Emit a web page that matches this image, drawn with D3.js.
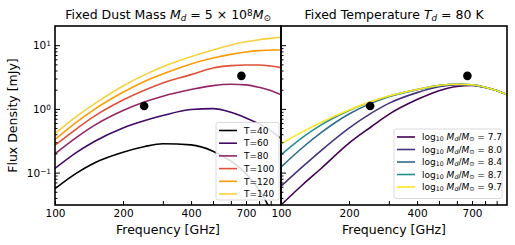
<!DOCTYPE html>
<html>
<head>
<meta charset="utf-8">
<script src="https://cdn.jsdelivr.net/npm/d3@7"></script>
<style>
  body { margin: 0; background: #fff; }
  svg text { font-family: "DejaVu Sans", sans-serif; fill: #000; }
</style>
</head>
<body>
<div class="main__area"></div>
<script>
const freqs = [100, 125, 150, 200, 250, 300, 400, 500, 600, 700, 800, 900, 1000];

// left panel: fixed dust mass, flux density (mJy) per temperature
const temps = [40, 60, 80, 100, 120, 140];
const fluxT40  = [0.056, 0.099, 0.143, 0.209, 0.257, 0.283, 0.272, 0.217, 0.151, 0.096, 0.054, 0.026, 0.013];
const fluxT60  = [0.116, 0.209, 0.311, 0.503, 0.656, 0.785, 0.976, 1.01, 0.886, 0.722, 0.581, 0.457, 0.342];
const fluxT80  = [0.197, 0.36, 0.555, 0.94, 1.29, 1.58, 2.01, 2.32, 2.43, 2.38, 2.18, 1.94, 1.66];
const fluxT100 = [0.269, 0.491, 0.776, 1.38, 1.98, 2.55, 3.45, 4.39, 4.77, 4.89, 4.89, 4.71, 4.44];
const fluxT120 = [0.33, 0.625, 0.99, 1.82, 2.71, 3.53, 5.07, 6.29, 7.18, 7.81, 8.2, 8.4, 8.4];
const fluxT140 = [0.41, 0.77, 1.21, 2.29, 3.45, 4.6, 6.6, 8.4, 10.1, 11.3, 12.2, 12.8, 13.3];

// right panel: fixed temperature, flux density (mJy) per log10 dust mass
const logMasses = [7.7, 8.0, 8.4, 8.7, 9.7];
const fluxM77 = [0.031, 0.065, 0.115, 0.29, 0.52, 0.82, 1.40, 1.93, 2.25, 2.33, 2.17, 1.94, 1.66];
const fluxM80 = [0.061, 0.125, 0.22, 0.50, 0.85, 1.22, 1.80, 2.22, 2.40, 2.38, 2.18, 1.94, 1.66];
const fluxM84 = [0.122, 0.25, 0.42, 0.83, 1.22, 1.55, 2.00, 2.32, 2.43, 2.38, 2.18, 1.94, 1.66];
const fluxM87 = [0.19, 0.36, 0.555, 0.94, 1.29, 1.58, 2.01, 2.32, 2.43, 2.38, 2.18, 1.94, 1.66];
const fluxM97 = [0.285, 0.44, 0.61, 0.96, 1.30, 1.59, 2.02, 2.33, 2.44, 2.39, 2.19, 1.95, 1.67];

// observed points
const obsFreq = [248, 668];
const obsFlux = [1.11, 3.3];

// ticks
const xTicks = [100, 200, 300, 400, 500, 600, 700, 800, 900];
const xLabeled = [100, 200, 400, 700];
const yMajor = [0.1, 1, 10];
const yMinor = [0.04, 0.05, 0.06, 0.07, 0.08, 0.09, 0.2, 0.3, 0.4, 0.5, 0.6, 0.7, 0.8, 0.9, 2, 3, 4, 5, 6, 7, 8, 9];
const yExp = { 0.1: "\u22121", 1: "0", 10: "1" };

const width = 515, height = 245;
const plotTop = 26, plotBottom = 205;
const panels = [
  { left: 55, right: 281, series: [fluxT40, fluxT60, fluxT80, fluxT100, fluxT120, fluxT140] },
  { left: 281, right: 507, series: [fluxM77, fluxM80, fluxM84, fluxM87, fluxM97] }
];
const tempColors = temps.map((t, i) => d3.interpolateInferno([0, 0.2, 0.4, 0.6, 0.78, 0.89][i]));
const massColors = logMasses.map(m => d3.interpolateViridis((m - 7.7) / 2.0));

const svg = d3.select(".main__area").append("svg")
  .attr("width", width).attr("height", height);

const y = d3.scaleLog().domain([0.031, 20]).range([plotBottom, plotTop]);

// writes a label made of pieces: plain, italic, sub, super
function rich(textSel, parts) {
  parts.forEach(p => {
    const ts = textSel.append("tspan").text(p.t);
    if (p.it) ts.style("font-style", "italic");
    if (p.sub) ts.attr("baseline-shift", "-22%").attr("font-size", "70%");
    if (p.sup) ts.attr("baseline-shift", "38%").attr("font-size", "70%");
  });
}

panels.forEach((panel, pi) => {
  const x = d3.scaleLog().domain([100, 1000]).range([panel.left, panel.right]);
  const colors = pi === 0 ? tempColors : massColors;
  const g = svg.append("g");

  svg.append("clipPath").attr("id", `clip${pi}`)
    .append("rect").attr("x", panel.left).attr("y", plotTop)
    .attr("width", panel.right - panel.left).attr("height", plotBottom - plotTop);

  const line = d3.line()
    .x((d, i) => x(freqs[i]))
    .y(d => y(d))
    .curve(d3.curveMonotoneX);

  const lines = g.append("g").attr("clip-path", `url(#clip${pi})`);
  panel.series.forEach((s, i) => {
    lines.append("path").attr("d", line(s))
      .attr("fill", "none").attr("stroke", colors[i]).attr("stroke-width", 1.6);
  });

  lines.selectAll("circle").data(obsFreq).join("circle")
    .attr("cx", d => x(d)).attr("cy", (d, i) => y(obsFlux[i]))
    .attr("r", 4.3).attr("fill", "#000");

  // x axis, ticks pointing inward
  const xAxis = g.append("g").attr("transform", `translate(0,${plotBottom})`)
    .call(d3.axisBottom(x).tickValues(xTicks).tickSize(-4).tickPadding(5)
      .tickFormat(d => xLabeled.includes(d) ? d : ""));
  xAxis.select(".domain").remove();
  xAxis.selectAll("line").attr("stroke-width", 1);
  xAxis.selectAll("text").attr("font-size", 10.5).attr("font-family", "DejaVu Sans");

  // y axis
  const yAxisMinor = g.append("g").attr("transform", `translate(${panel.left},0)`)
    .call(d3.axisLeft(y).tickValues(yMinor).tickSize(-2.5).tickFormat(""));
  yAxisMinor.select(".domain").remove();
  const yAxis = g.append("g").attr("transform", `translate(${panel.left},0)`)
    .call(d3.axisLeft(y).tickValues(yMajor).tickSize(-5).tickPadding(4).tickFormat(""));
  yAxis.select(".domain").remove();
  if (pi === 0) {
    yAxis.selectAll(".tick text").each(function(d) {
      const t = d3.select(this).attr("font-size", 10.5).attr("font-family", "DejaVu Sans")
        .attr("x", -4).attr("dy", "0.36em");
      rich(t, [{ t: "10" }, { t: yExp[d], sup: true }]);
    });
  }

  // frame
  g.append("rect").attr("x", panel.left).attr("y", plotTop)
    .attr("width", panel.right - panel.left).attr("height", plotBottom - plotTop)
    .attr("fill", "none").attr("stroke", "#000").attr("stroke-width", 1.6);

  g.append("text").attr("x", (panel.left + panel.right) / 2).attr("y", 234)
    .attr("text-anchor", "middle").attr("font-size", 12.5).text("Frequency [GHz]");

  const title = g.append("text").attr("x", (panel.left + panel.right) / 2).attr("y", 19)
    .attr("text-anchor", "middle").attr("font-size", 12.5);
  if (pi === 0) {
    rich(title, [{ t: "Fixed Dust Mass " }, { t: "M", it: true }, { t: "d", it: true, sub: true },
      { t: " = 5 \u00d7 10" }, { t: "8", sup: true }, { t: "M", it: true }, { t: "\u2299", sub: true }]);
  } else {
    rich(title, [{ t: "Fixed Temperature " }, { t: "T", it: true }, { t: "d", it: true, sub: true },
      { t: " = 80 K" }]);
  }
});

svg.append("text").attr("transform", "translate(17,115.5) rotate(-90)")
  .attr("text-anchor", "middle").attr("font-size", 12.5).text("Flux Density [mJy]");

// legends
function legend(x0, y0, w, h, step, colors, labels) {
  const lg = svg.append("g");
  lg.append("rect").attr("x", x0).attr("y", y0).attr("width", w).attr("height", h)
    .attr("rx", 2).attr("fill", "#fff").attr("fill-opacity", 0.85)
    .attr("stroke", "#d0d0d0").attr("stroke-width", 0.8);
  labels.forEach((lab, i) => {
    const cy = y0 + 8 + i * step;
    lg.append("line").attr("x1", x0 + 3).attr("x2", x0 + 21).attr("y1", cy).attr("y2", cy)
      .attr("stroke", colors[i]).attr("stroke-width", 1.6);
    const t = lg.append("text").attr("x", x0 + 28).attr("y", cy + 3.2).attr("font-size", 9);
    if (typeof lab === "string") t.text(lab); else rich(t, lab);
  });
}
legend(216, 122.5, 63, 77.5, 12.7, tempColors, temps.map(t => `T=${t}`));
legend(394, 129, 108, 69.5, 12.5, massColors, logMasses.map(m => [
  { t: "log" }, { t: "10", sub: true }, { t: " M", it: true }, { t: "d", it: true, sub: true },
  { t: "/" }, { t: "M", it: true }, { t: "\u2299", sub: true }, { t: " = " + m.toFixed(1) }
]));
</script>
</body>
</html>
